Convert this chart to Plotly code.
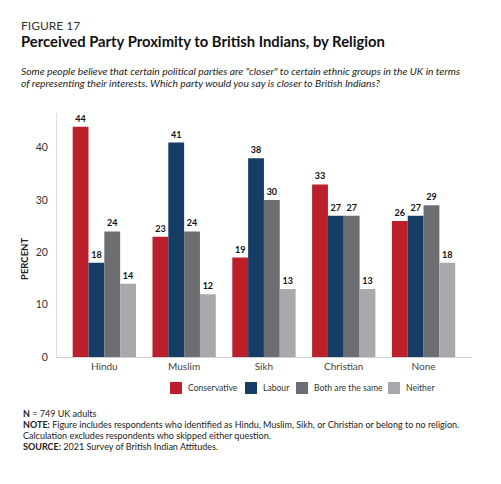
import plotly.graph_objects as go

religions = ["Hindu", "Muslim", "Sikh", "Christian", "None"]
series_names = ["Conservative", "Labour", "Both are the same", "Neither"]
conservative = [44, 23, 19, 33, 26]
labour = [18, 41, 38, 27, 27]
both_same = [24, 24, 30, 27, 29]
neither = [14, 12, 13, 13, 18]
y_ticks = [0, 10, 20, 30, 40]

values = [conservative, labour, both_same, neither]
colors = ["#BA1F2A", "#163D66", "#6D6E72", "#A7A9AC"]

W, H = 501, 484
L, R, T, B = 57, 29, 113, 127
PW = W - L - R
PH = H - T - B
FONT = "Lato"


def px(x):
    return (x - L) / PW


def py(y):
    return (T + PH - y) / PH


fig = go.Figure()
for name, vals, col in zip(series_names, values, colors):
    fig.add_trace(go.Bar(
        x=religions, y=vals, name=name, marker=dict(color=col, line=dict(width=0)),
        text=[str(v) for v in vals], textposition="outside",
        textfont=dict(family=FONT, size=9, color="#111111", weight="bold"),
        cliponaxis=False, showlegend=False,
    ))

fig.update_layout(
    width=W, height=H,
    margin=dict(l=L, r=R, t=T, b=B),
    paper_bgcolor="white", plot_bgcolor="white",
    barmode="group", bargap=0.207, bargroupgap=0,
    font=dict(family=FONT, color="#333333"),
    uniformtext=dict(minsize=9, mode="show"),
)
fig.update_xaxes(
    range=[-0.593, 4.607], showgrid=False, showline=True, linecolor="#CFCFCF", linewidth=1,
    ticks="", tickfont=dict(family=FONT, size=10, color="#444444"), fixedrange=True,
)
fig.update_yaxes(
    range=[0, 46.65], showgrid=False, zeroline=False, showline=True, linecolor="#DDDDDD",
    linewidth=1, tickvals=y_ticks, ticks="", ticklabelstandoff=6,
    tickfont=dict(family=FONT, size=10.5, color="#333333"), fixedrange=True,
)

ann = []
ann.append(dict(text="FIGURE 17", x=px(19), y=py(25), xanchor="left", yanchor="middle",
                font=dict(family=FONT, size=12, color="#333333")))
ann.append(dict(text="<b>Perceived Party Proximity to British Indians, by Religion</b>",
                x=px(19), y=py(41), xanchor="left", yanchor="middle",
                font=dict(family=FONT, size=14.8, color="#111111")))
ann.append(dict(text="<i>Some people believe that certain political parties are \"closer\" to certain ethnic groups in the UK in terms</i>",
                x=px(19), y=py(71), xanchor="left", yanchor="middle",
                font=dict(family=FONT, size=10.3, color="#222222")))
ann.append(dict(text="<i>of representing their interests. Which party would you say is closer to British Indians?</i>",
                x=px(19), y=py(82.5), xanchor="left", yanchor="middle",
                font=dict(family=FONT, size=10.3, color="#222222")))
ann.append(dict(text="<b>PERCENT</b>", x=px(24), y=py(259), xanchor="center", yanchor="middle",
                textangle=-90, font=dict(family=FONT, size=9.5, color="#222222")))

# legend
sq = [(170, 186), (245, 260.7), (296, 312.3), (388, 404.3)]
shapes = []
for (sx, tx), name, col in zip(sq, series_names, colors):
    shapes.append(dict(type="rect", xref="paper", yref="paper",
                       x0=px(sx), x1=px(sx + 12), y0=py(394), y1=py(382),
                       fillcolor=col, line=dict(width=0)))
    ann.append(dict(text=name, x=px(tx), y=py(388), xanchor="left", yanchor="middle",
                    font=dict(family=FONT, size=8.6, color="#333333")))

footer = [
    ("<b>N</b> = 749 UK adults", 413.5),
    ("<b>NOTE:</b> Figure includes respondents who identified as Hindu, Muslim, Sikh, or Christian or belong to no religion.", 424.5),
    ("Calculation excludes respondents who skipped either question.", 435.5),
    ("<b>SOURCE:</b> 2021 Survey of British Indian Attitudes.", 446.5),
]
for txt, yy in footer:
    ann.append(dict(text=txt, x=px(21), y=py(yy), xanchor="left", yanchor="middle",
                    font=dict(family=FONT, size=9, color="#222222")))

for a in ann:
    a.update(xref="paper", yref="paper", showarrow=False)
fig.update_layout(annotations=ann, shapes=shapes)

fig.write_html("out.html", config={"displayModeBar": False},
               post_script="document.body.style.margin='0';")
